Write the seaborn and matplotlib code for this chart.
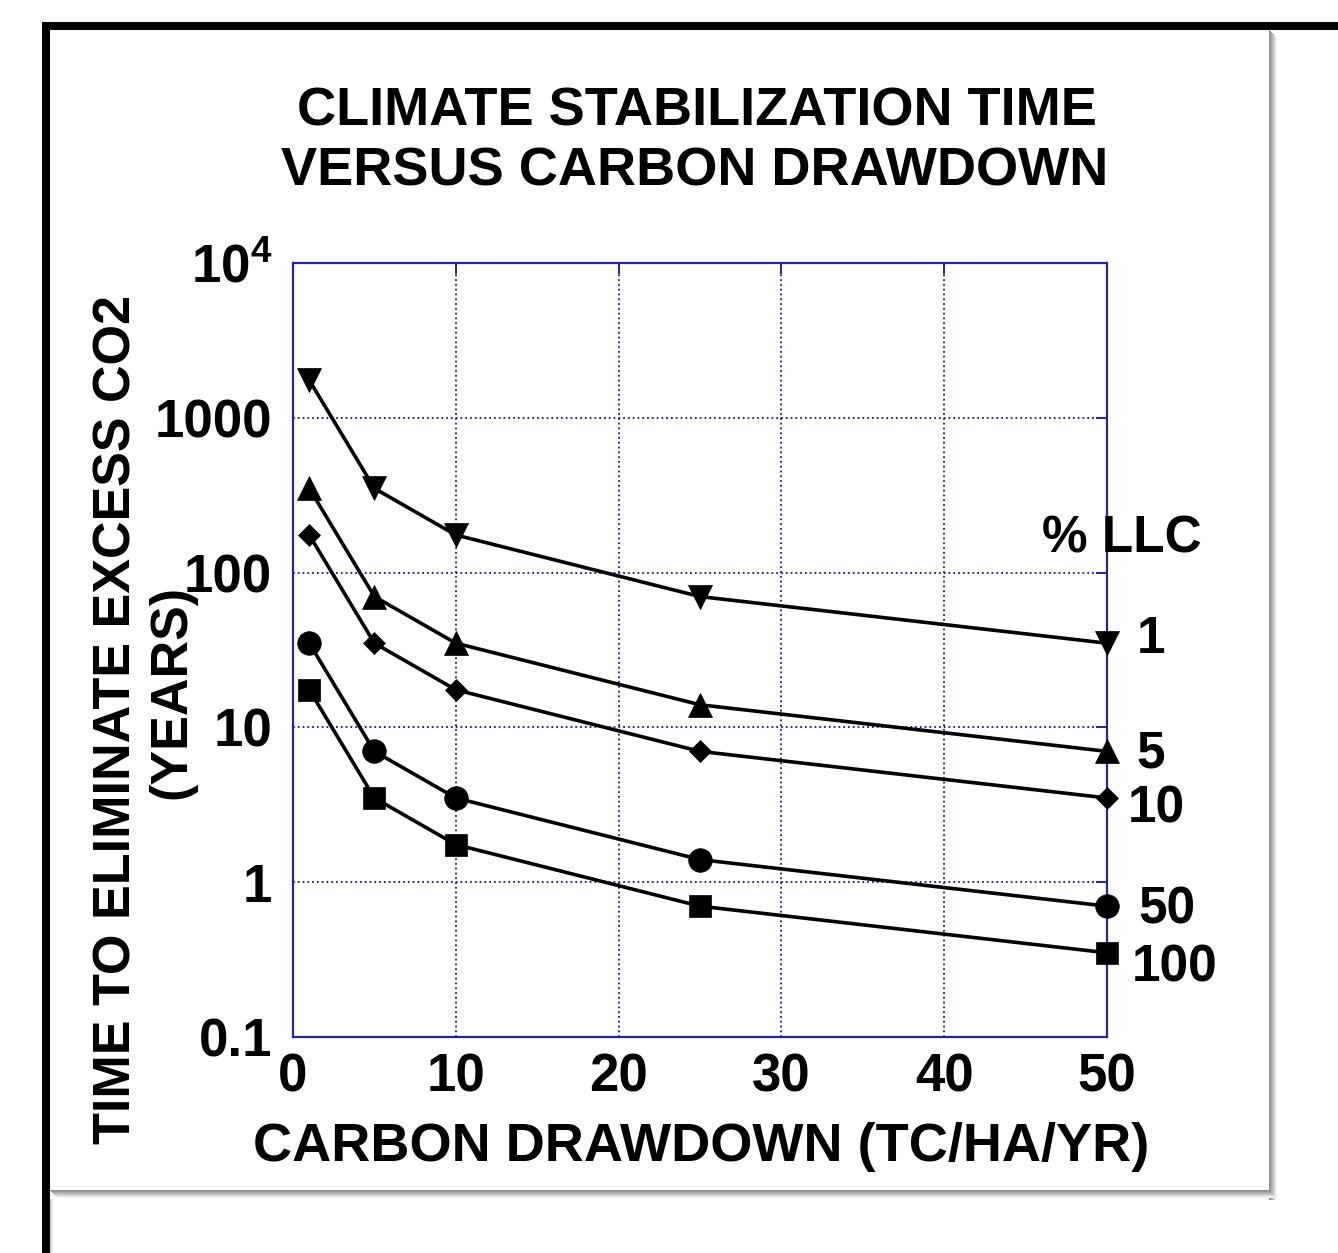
import matplotlib
matplotlib.use("Agg")
import matplotlib.pyplot as plt
import seaborn as sns
import pandas as pd
from matplotlib.patches import Rectangle
from matplotlib.ticker import FixedLocator, FixedFormatter, NullLocator

# ---------------- data ----------------
drawdown = [1, 5, 10, 25, 50]
llc_labels = ["1", "5", "10", "50", "100"]
time_llc_1 = [1750, 350, 175, 70, 35]
time_llc_5 = [350, 70, 35, 14, 7]
time_llc_10 = [175, 35, 17.5, 7, 3.5]
time_llc_50 = [35, 7, 3.5, 1.4, 0.7]
time_llc_100 = [17.5, 3.5, 1.75, 0.7, 0.35]
x_ticks = [0, 10, 20, 30, 40, 50]
x_tick_labels = ["0", "10", "20", "30", "40", "50"]
y_ticks = [0.1, 1, 10, 100, 1000, 10000]
y_tick_labels = ["0.1", "1", "10", "100", "1000", r"$\mathbf{10^{4}}$"]
title_lines = ["CLIMATE STABILIZATION TIME", "VERSUS CARBON DRAWDOWN"]
xlabel = "CARBON DRAWDOWN (TC/HA/YR)"
ylabel_lines = ["TIME TO ELIMINATE EXCESS CO2", "(YEARS)"]
legend_title = "% LLC"

series = [time_llc_1, time_llc_5, time_llc_10, time_llc_50, time_llc_100]

# ---------------- style ----------------
sns.set_theme(style="white")
plt.rcParams["font.family"] = ["Liberation Sans", "DejaVu Sans"]
plt.rcParams["font.weight"] = "bold"
plt.rcParams["text.color"] = "black"
plt.rcParams["axes.labelcolor"] = "black"
plt.rcParams["xtick.color"] = "black"
plt.rcParams["ytick.color"] = "black"
plt.rcParams["mathtext.fontset"] = "custom"
plt.rcParams["mathtext.bf"] = "Liberation Sans:bold"
plt.rcParams["mathtext.rm"] = "Liberation Sans:bold"

W, H = 1338, 1253
fig = plt.figure(figsize=(W / 100, H / 100), dpi=100)
fig.patch.set_facecolor("white")

def fx(px):
    return px / W

def fy(py):
    return 1 - py / H

# frame decorations
fig.patches.append(Rectangle((fx(42), fy(30)), fx(W - 42), 8 / H, transform=fig.transFigure,
                             facecolor="black", edgecolor="none", zorder=0))
fig.patches.append(Rectangle((fx(42), 0), 8 / W, (H - 22) / H, transform=fig.transFigure,
                             facecolor="black", edgecolor="none", zorder=0))
shade = [0.55, 0.6, 0.66, 0.72, 0.78, 0.85, 0.91, 0.96]
for i, g in enumerate(shade):
    c = (g, g, g)
    fig.patches.append(Rectangle((fx(1269 + i), fy(1192 + len(shade))), 1 / W, (1192 + len(shade) - 30 - i) / H,
                                 transform=fig.transFigure, facecolor=c, edgecolor="none", zorder=0))
    fig.patches.append(Rectangle((fx(50 + i), fy(1191 + i)), (1219) / W, 1 / H,
                                 transform=fig.transFigure, facecolor=c, edgecolor="none", zorder=0))
for i, g in enumerate([0.8, 0.86, 0.92, 0.97]):
    fig.patches.append(Rectangle((fx(50 + i), 0), 1 / W, (H - 1199) / H, transform=fig.transFigure,
                                 facecolor=(g, g, g), edgecolor="none", zorder=0))

ax = fig.add_axes([fx(293), fy(1037), (1107 - 293) / W, (1037 - 263) / H])
ax.set_facecolor("white")

navy = "#26269a"
markers = ["v", "^", "D", "o", "s"]
msizes = [17, 17, 11.5, 17, 16]
for vals, m, ms, lab in zip(series, markers, msizes, llc_labels):
    df = pd.DataFrame({"drawdown": drawdown, "time": vals})
    sns.lineplot(data=df, x="drawdown", y="time", ax=ax, color="black", linewidth=2.6,
                 marker=m, markersize=ms, markeredgecolor="black", markeredgewidth=0.5,
                 clip_on=False, zorder=4, legend=False)

ax.set_yscale("log")
ax.set_xlim(0, 50)
ax.set_ylim(0.1, 10000)
ax.xaxis.set_major_locator(FixedLocator(x_ticks))
ax.xaxis.set_major_formatter(FixedFormatter(x_tick_labels))
ax.yaxis.set_major_locator(FixedLocator(y_ticks))
ax.yaxis.set_major_formatter(FixedFormatter(y_tick_labels))
ax.yaxis.set_minor_locator(NullLocator())
ax.xaxis.set_minor_locator(NullLocator())
ax.set_xlabel("")
ax.set_ylabel("")

ax.grid(True, which="major", linestyle=":", color="#1a1a80", linewidth=1.3)
for s in ax.spines.values():
    s.set_visible(True)
    s.set_color(navy)
    s.set_linewidth(1.6)
ax.tick_params(axis="both", which="major", direction="in", length=8, width=1.4, color=navy,
               top=True, right=True, labelsize=38, labelcolor="black")
ax.tick_params(axis="y", pad=15)
ax.tick_params(axis="x", pad=11)
for t in ax.get_xticklabels() + ax.get_yticklabels():
    t.set_fontweight("bold")
    t.set_color("black")

# series labels
offsets = [(21.6, -7.2), (20.9, -11.5), (15.1, -17.3), (22.3, -12.2), (18.0, -20.9)]
for vals, lab, (dx, dy) in zip(series, llc_labels, offsets):
    ax.annotate(lab, xy=(drawdown[-1], vals[-1]), xytext=(dx, dy), textcoords="offset points",
                ha="left", va="baseline", fontsize=37, fontweight="bold", color="black",
                annotation_clip=False)

fig.text(fx(1122), fy(553), legend_title, ha="center", va="baseline", fontsize=37,
         fontweight="bold", color="black")

# titles and labels
fig.text(fx(697), fy(126), title_lines[0], ha="center", va="baseline", fontsize=39,
         fontweight="bold", color="black")
fig.text(fx(695), fy(186), title_lines[1], ha="center", va="baseline", fontsize=39,
         fontweight="bold", color="black")
fig.text(fx(701), fy(1161), xlabel, ha="center", va="baseline", fontsize=39,
         fontweight="bold", color="black")
fig.text(fx(131), fy(719), ylabel_lines[0], ha="center", va="baseline", rotation=90,
         rotation_mode="anchor", fontsize=37.5, fontweight="bold", color="black")
fig.text(fx(185), fy(692), ylabel_lines[1], ha="center", va="baseline", rotation=90,
         rotation_mode="anchor", fontsize=37.5, fontweight="bold", color="black")

fig.savefig("out.png", dpi=100)
